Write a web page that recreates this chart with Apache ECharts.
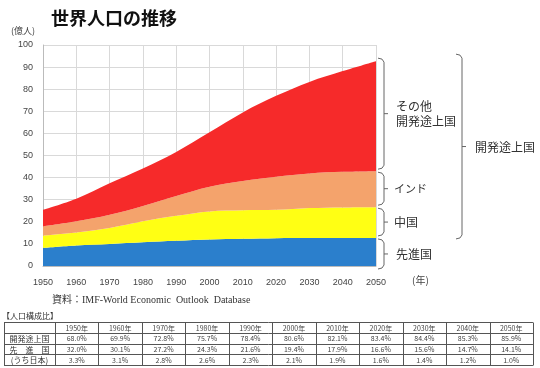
<!DOCTYPE html>
<html><head><meta charset="utf-8">
<script src="https://cdn.jsdelivr.net/npm/echarts@6/dist/echarts.min.js"></script>
<style>html,body{margin:0;padding:0;background:#fff}#c{width:540px;height:368px}</style>
</head><body><div id="c"></div>
<script>
// ---- data (億人, per group) ----
const years = ['1950','1960','1970','1980','1990','2000','2010','2020','2030','2040','2050'];
const yTicks = [0,10,20,30,40,50,60,70,80,90,100];
const developed = [8.2, 9.3, 10.0, 10.8, 11.4, 12.0, 12.3, 12.6, 12.7, 12.7, 12.7];
const china     = [5.6, 5.9, 7.2, 9.4, 11.3, 12.7, 12.9, 12.8, 13.5, 13.8, 13.9];
const india     = [4.1, 5.0, 6.0, 7.0, 9.0, 11.2, 13.3, 15.0, 15.7, 16.1, 16.3];
const otherDev  = [7.5, 10.2, 14.2, 16.9, 19.9, 24.6, 31.0, 36.6, 41.4, 45.6, 49.8];
const seriesNames = ['先進国','中国','インド','その他開発途上国'];
// ---- table ----
const tableTitle = '【人口構成比】';
const tableHeaders = ['1950年','1960年','1970年','1980年','1990年','2000年','2010年','2020年','2030年','2040年','2050年'];
const rowLabels = ['開発途上国','先　進　国','(うち日本)'];
const shareDeveloping = ['68.0%','69.9%','72.8%','75.7%','78.4%','80.6%','82.1%','83.4%','84.4%','85.3%','85.9%'];
const shareDeveloped  = ['32.0%','30.1%','27.2%','24.3%','21.6%','19.4%','17.9%','16.6%','15.6%','14.7%','14.1%'];
const shareJapan      = ['3.3%','3.1%','2.8%','2.6%','2.3%','2.1%','1.9%','1.6%','1.4%','1.2%','1.0%'];

const colors = ['#2b7fcc','#ffff14','#f4a36c','#f62a2a'];
const allSeries = [developed, china, india, otherDev];

const chart = echarts.init(document.getElementById('c'), null, {renderer:'canvas'});
const option = {
  animation:false,
  title:{text:'世界人口の推移', left:46, top:4, textStyle:{fontSize:18, fontWeight:'bold', color:'#111', fontFamily:'Noto Sans CJK JP'}},
  grid:{left:43, right:164, top:45, bottom:102, containLabel:false},
  xAxis:{type:'category', data:years, boundaryGap:false,
    axisLine:{lineStyle:{color:'#bbb'}}, axisTick:{show:false},
    axisLabel:{color:'#444', fontSize:9, margin:12, fontFamily:'Liberation Sans'},
    splitLine:{show:true, lineStyle:{color:'#d9d9d9'}}},
  yAxis:{type:'value', min:0, max:100, interval:10,
    axisLine:{show:true, lineStyle:{color:'#bbb'}}, axisTick:{show:false},
    axisLabel:{color:'#444', fontSize:9, margin:10, fontFamily:'Liberation Sans'},
    splitLine:{lineStyle:{color:'#d9d9d9'}}},
  series: allSeries.map((d,i)=>({
    name:seriesNames[i], type:'line', stack:'pop', data:d, smooth:0.35,
    symbol:'none', lineStyle:{width:0}, areaStyle:{color:colors[i], opacity:1},
    itemStyle:{color:colors[i]}
  }))
};
chart.setOption(option);

// ---- annotations built from data via axis conversion ----
const last = years.length-1;
let cum = 0; const tops = [];
allSeries.forEach(d=>{cum += d[last]; tops.push(cum);});
const py = v => chart.convertToPixel({gridIndex:0},[last, v])[1];
const xEnd = chart.convertToPixel({gridIndex:0},[last, 0])[0];
const g = [];
const lineStyle = {stroke:'#666', lineWidth:1, fill:null};
function bracket(x, y1, y2){
  const m = (y1+y2)/2;
  g.push({type:'polyline', shape:{points:[[x-6,y1],[x-2,y1+1],[x,y1+4],[x,y2-4],[x-2,y2-1],[x-6,y2]]}, style:lineStyle, silent:true});
  g.push({type:'line', shape:{x1:x, y1:m, x2:x+4, y2:m}, style:{stroke:'#666', lineWidth:1}, silent:true});
  return m;
}
const txt = (x,y,t,fs,extra)=>g.push(Object.assign({type:'text', x:x, y:y, style:{text:t, fill:'#333', fontSize:fs, fontFamily:'Noto Sans CJK JP', verticalAlign:'middle', align:'left'}, silent:true}, extra||{}));
const bx = xEnd + 8;
const bands = [[0,tops[0]],[tops[0],tops[1]],[tops[1],tops[2]],[tops[2],tops[3]]];
const mids = bands.map(b=>bracket(bx, py(b[1])-1+ (b[1]===tops[3]? -2:2), py(b[0])+ (b[0]===0?3:-2)));
txt(bx+12, mids[3]-7, 'その他', 12);
txt(bx+12, mids[3]+8, '開発途上国', 12);
txt(bx+10, mids[2], 'インド', 11);
txt(bx+10, mids[1], '中国', 12);
txt(bx+12, mids[0], '先進国', 12);
const bigX = xEnd + 86;
const bm = bracket(bigX, py(tops[3])-7, py(tops[0])+1);
txt(bigX+13, bm+1, '開発途上国', 12);
// axis unit labels
txt(11, 31, '(億人)', 9, {style:{text:'(億人)', fill:'#444', fontSize:9, fontFamily:'Noto Sans CJK JP', verticalAlign:'middle', align:'left'}});
txt(412, 280, '(年)', 10, {style:{text:'(年)', fill:'#444', fontSize:10, fontFamily:'Noto Sans CJK JP', verticalAlign:'middle', align:'left'}});
// source
g.push({type:'text', x:52, y:300, silent:true, style:{text:'資料：IMF-World Economic  Outlook  Database', fill:'#333', fontSize:10, fontFamily:'Liberation Serif, Noto Sans CJK JP', verticalAlign:'middle'}});
// table
g.push({type:'text', x:2, y:316, silent:true, style:{text:tableTitle, fill:'#333', fontSize:8, fontFamily:'Noto Sans CJK JP', verticalAlign:'middle'}});
const tx0 = 4, labelW = 51, colW = 43.45, ty0 = 322, rowH = 10.8;
const rows = [tableHeaders, shareDeveloping, shareDeveloped, shareJapan];
const tStyle = {stroke:'#555', lineWidth:1};
const tW = labelW + colW*tableHeaders.length;
for(let r=0;r<=rows.length;r++){
  const y = Math.round(ty0 + r*rowH)+0.5;
  g.push({type:'line', silent:true, shape:{x1:tx0, y1:y, x2:tx0+tW, y2:y}, style:tStyle});
}
const vx = [tx0, tx0+labelW];
for(let c=1;c<=tableHeaders.length;c++) vx.push(tx0+labelW+c*colW);
vx.forEach(x=>{ const xx=Math.round(x)+0.5; g.push({type:'line', silent:true, shape:{x1:xx, y1:Math.round(ty0)+0.5, x2:xx, y2:Math.round(ty0+rows.length*rowH)+0.5}, style:tStyle});});
rows.forEach((row,r)=>{
  const yc = ty0 + r*rowH + rowH/2 + 0.5;
  if(r>0) g.push({type:'text', silent:true, x:tx0+labelW/2, y:yc, style:{text:rowLabels[r-1], fill:'#333', fontSize:8, fontFamily:'Noto Sans CJK JP', align:'center', verticalAlign:'middle'}});
  row.forEach((t,c)=>{
    g.push({type:'text', silent:true, x:tx0+labelW+c*colW+colW/2, y:yc, style:{text:t, fill:'#444', fontSize:7, fontFamily:'Noto Sans CJK JP', align:'center', verticalAlign:'middle'}});
  });
});
chart.setOption({graphic:g});
</script></body></html>
